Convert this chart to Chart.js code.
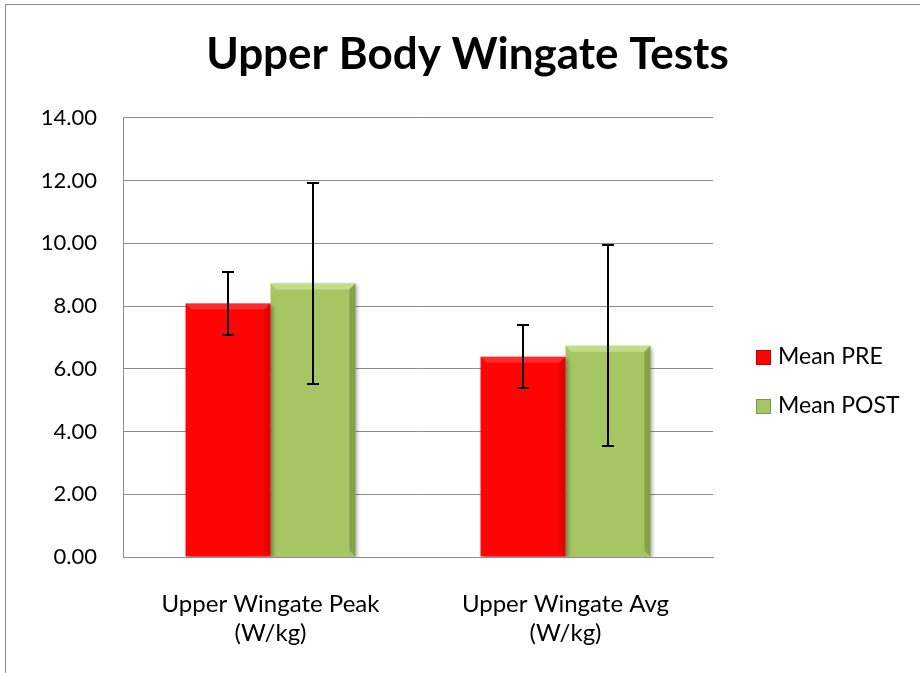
<!DOCTYPE html>
<html>
<head>
<meta charset="utf-8">
<script src="https://cdn.jsdelivr.net/npm/chart.js@4.4.1/dist/chart.umd.min.js"></script>
<style>
  html, body { margin: 0; padding: 0; background: #fff; }
  #wrap { position: relative; width: 920px; height: 673px; overflow: hidden; }
  #frame { position: absolute; left: 5px; top: 4px; width: 1000px; height: 1000px; border: 1px solid #8c8c8c; box-sizing: border-box; }
  #c { position: absolute; left: 0; top: 0; }
</style>
</head>
<body>
<div id="wrap">
  <div id="frame"></div>
  <canvas id="c" width="920" height="673"></canvas>
</div>
<script>
// data
var categories = [['Upper Wingate Peak', '(W/kg)'], ['Upper Wingate Avg', '(W/kg)']];
var seriesNames = ['Mean PRE', 'Mean POST'];
var meanPre = [8.08, 6.38];
var meanPost = [8.72, 6.73];
var errPre = [1.0, 1.0];
var errPost = [3.2, 3.2];
var yTicks = [0, 2, 4, 6, 8, 10, 12, 14];

var FONT = 'Lato, "Open Sans", sans-serif';

// shadow under bars
var barShadow = {
  id: 'barShadow',
  beforeDatasetsDraw: function(chart) {
    var ctx = chart.ctx;
    ctx.save();
    ctx.shadowColor = 'rgba(0,0,0,0.35)';
    ctx.shadowBlur = 4;
    ctx.shadowOffsetX = 2;
    ctx.shadowOffsetY = 2;
  },
  afterDatasetsDraw: function(chart) {
    chart.ctx.restore();
  }
};

// bevel highlight + error bars
var errorBars = {
  id: 'errorBars',
  afterDatasetsDraw: function(chart) {
    var ctx = chart.ctx;
    var y = chart.scales.y;
    var errs = [errPre, errPost];
    var tops = ['rgba(255,90,90,0.45)', 'rgba(215,235,160,0.6)'];
    var sides = ['rgba(150,0,0,0.25)', 'rgba(70,95,30,0.35)'];
    ctx.save();
    chart.data.datasets.forEach(function(ds, i) {
      var meta = chart.getDatasetMeta(i);
      meta.data.forEach(function(bar, j) {
        var l = bar.x - bar.width / 2, r = bar.x + bar.width / 2, t = bar.y, b = bar.base;
        var bv = 6;
        ctx.fillStyle = tops[i];
        ctx.beginPath();
        ctx.moveTo(l, t); ctx.lineTo(r, t); ctx.lineTo(r - bv, t + bv); ctx.lineTo(l + bv, t + bv);
        ctx.closePath(); ctx.fill();
        ctx.fillStyle = sides[i];
        ctx.beginPath();
        ctx.moveTo(r, t); ctx.lineTo(r, b); ctx.lineTo(r - bv, b - bv); ctx.lineTo(r - bv, t + bv);
        ctx.closePath(); ctx.fill();
      });
    });
    ctx.strokeStyle = '#000';
    ctx.lineWidth = 2;
    chart.data.datasets.forEach(function(ds, i) {
      var meta = chart.getDatasetMeta(i);
      meta.data.forEach(function(bar, j) {
        var v = ds.data[j], e = errs[i][j];
        var y1 = Math.round(y.getPixelForValue(v + e)), y2 = Math.round(y.getPixelForValue(v - e));
        var x = Math.round(bar.x);
        ctx.beginPath();
        ctx.moveTo(x, y1); ctx.lineTo(x, y2);
        ctx.moveTo(x - 6, y1); ctx.lineTo(x + 6, y1);
        ctx.moveTo(x - 6, y2); ctx.lineTo(x + 6, y2);
        ctx.stroke();
      });
    });
    ctx.restore();
  }
};

// legend to the right of the plot, like the original
var sideLegend = {
  id: 'sideLegend',
  afterDraw: function(chart) {
    var ctx = chart.ctx, area = chart.chartArea;
    var x0 = area.right + 43, y0 = 357, step = 49;
    ctx.save();
    ctx.font = '23px ' + FONT;
    ctx.textBaseline = 'middle';
    chart.data.datasets.forEach(function(ds, i) {
      var cy = y0 + i * step;
      ctx.fillStyle = ds.backgroundColor;
      ctx.fillRect(x0, cy - 7, 15, 15);
      ctx.strokeStyle = 'rgba(0,0,0,0.25)';
      ctx.lineWidth = 1;
      ctx.strokeRect(x0 + 0.5, cy - 6.5, 14, 14);
      ctx.fillStyle = '#000';
      ctx.fillText(ds.label, x0 + 22, cy);
    });
    ctx.restore();
  }
};

new Chart(document.getElementById('c'), {
  type: 'bar',
  data: {
    labels: categories,
    datasets: [
      { label: seriesNames[0], data: meanPre, backgroundColor: '#ff0404', borderWidth: 0 },
      { label: seriesNames[1], data: meanPost, backgroundColor: '#a6c664', borderWidth: 0 }
    ]
  },
  options: {
    responsive: false,
    animation: false,
    layout: { padding: { left: 15, right: 0, top: 0, bottom: 20 } },
    datasets: { bar: { categoryPercentage: 0.576, barPercentage: 1 } },
    plugins: {
      title: {
        display: true,
        text: 'Upper Body Wingate Tests',
        color: '#000',
        font: { family: FONT, size: 44, weight: 'bold' },
        padding: { top: 28, bottom: 37 }
      },
      legend: { display: false },
      tooltip: { enabled: false }
    },
    scales: {
      x: {
        grid: { display: false, drawTicks: false },
        border: { color: '#8c8c8c', width: 1 },
        ticks: { color: '#000', font: { family: FONT, size: 24, lineHeight: 1.2 }, padding: 33 },
        afterFit: function(s) { s.height = 96; }
      },
      y: {
        min: 0, max: 14,
        afterBuildTicks: function(s) { s.ticks = yTicks.map(function(v) { return { value: v }; }); },
        grid: { color: '#8c8c8c', drawTicks: false },
        border: { color: '#8c8c8c', width: 1 },
        ticks: {
          color: '#000', font: { family: FONT, size: 22 }, padding: 26,
          callback: function(v) { return Number(v).toFixed(2); }
        },
        afterFit: function(s) { s.width = 108; }
      },
      gap: {
        position: 'right',
        display: true,
        grid: { display: false, drawTicks: false },
        border: { display: false },
        ticks: { display: false },
        afterFit: function(s) { s.width = 207; }
      }
    }
  },
  plugins: [barShadow, errorBars, sideLegend]
});
</script>
</body>
</html>
